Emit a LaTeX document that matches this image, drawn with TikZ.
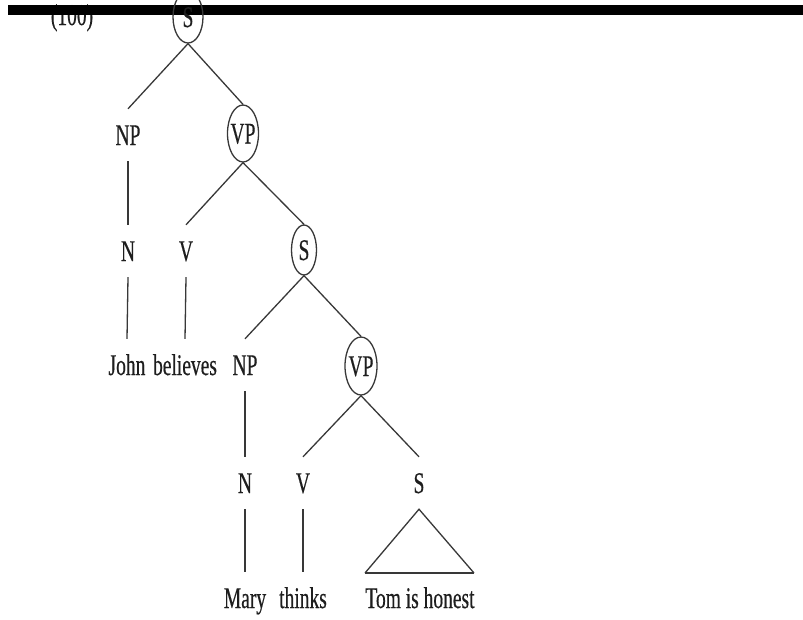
\documentclass[tikz,border=0pt]{standalone}
\usepackage{fontspec}
\setmainfont{Liberation Serif}
\newfontfamily\treefont[FakeStretch=0.65,FakeBold=0.4]{Liberation Serif}
\usetikzlibrary{shapes.geometric}
\definecolor{ink}{HTML}{1E1E1E}
\definecolor{branch}{HTML}{383838}
\tikzset{
  lbl/.style={inner sep=0pt, minimum height=52pt, text height=20pt, text depth=0pt,
    font=\treefont\fontsize{30}{36}\selectfont, text=ink},
  circled/.style={ellipse, draw=branch, line width=1.3pt, inner sep=0pt,
    text height=20pt, text depth=0pt, font=\treefont\fontsize{30}{36}\selectfont, text=ink},
  branchline/.style={draw=branch, line width=1.3pt},
}
\newcommand{\cat}[1]{\makebox[0pt]{#1}}
\begin{document}
\begin{tikzpicture}[x=1pt, y=-1pt]
  \useasboundingbox[fill=white] (0,0) rectangle (803,619);

  % example number, partly under the rule
  \node[lbl, minimum height=0pt] (exnum) at (72,15) {(100)};
  \fill[black] (8,5) rectangle (803,15);

  % circled categories
  \node[circled, minimum width=30pt, minimum height=52pt] (S0) at (188,17) {\cat{S}};
  \node[circled, minimum width=31pt, minimum height=57pt] (VP1) at (243,133.5) {\cat{VP}};
  \node[circled, minimum width=25pt, minimum height=50pt] (S1) at (304,250) {\cat{S}};
  \node[circled, minimum width=32pt, minimum height=58pt] (VP2) at (361,366) {\cat{VP}};

  % plain categories and words
  \node[lbl] (NP1) at (128,135) {NP};
  \node[lbl] (N1) at (128,251) {N};
  \node[lbl] (V1) at (186,251) {V};
  \node[lbl] (John) at (127,365) {John};
  \node[lbl] (believes) at (185,365) {believes};
  \node[lbl] (NP2) at (245,365) {NP};
  \node[lbl] (N2) at (245,483) {N};
  \node[lbl] (V2) at (303,483) {V};
  \node[lbl] (S2) at (419,483) {S};
  \node[lbl] (Mary) at (245,598) {Mary};
  \node[lbl] (thinks) at (303,598) {thinks};
  \node[lbl] (Tom) at (420,598) {Tom is honest};

  % branches
  \draw[branchline] (S0.south) -- (NP1.north);
  \draw[branchline] (S0.south) -- (VP1.north);
  \draw[branchline] (NP1.south) -- (N1.north);
  \draw[branchline] (VP1.south) -- (V1.north);
  \draw[branchline] (VP1.south) -- (S1.north);
  \draw[branchline] (N1.south) -- (John.north);
  \draw[branchline] (V1.south) -- (believes.north);
  \draw[branchline] (S1.south) -- (NP2.north);
  \draw[branchline] (S1.south) -- (VP2.north);
  \draw[branchline] (NP2.south) -- (N2.north);
  \draw[branchline] (VP2.south) -- (V2.north);
  \draw[branchline] (VP2.south) -- (S2.north);
  \draw[branchline] (N2.south) -- (Mary.north);
  \draw[branchline] (V2.south) -- (thinks.north);

  % unanalysed constituent
  \coordinate (triL) at (365,573);
  \coordinate (triR) at (474,573);
  \draw[branchline, line join=miter] (triL) -- (S2.south) -- (triR);
  \draw[branchline, line width=2.2pt] (triL) -- (triR);
\end{tikzpicture}
\end{document}
